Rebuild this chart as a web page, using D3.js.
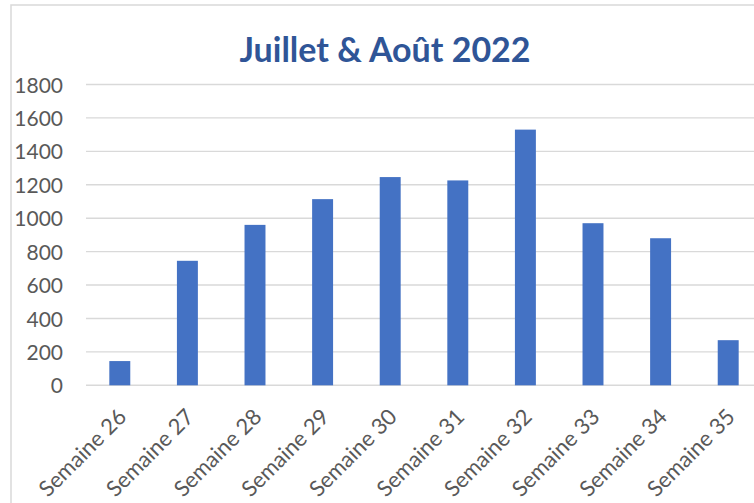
<!DOCTYPE html>
<html>
<head>
<meta charset="utf-8">
<title>Juillet & Août 2022</title>
<script src="https://d3js.org/d3.v7.min.js"></script>
<style>
  body { margin: 0; background: #fff; }
  text { font-family: Lato, "Open Sans", sans-serif; }
  .grid line { stroke: #d9d9d9; stroke-width: 1.4; }
  .tick text { fill: #595959; }
</style>
</head>
<body>
<script>
  // data
  var weeks = ["Semaine 26", "Semaine 27", "Semaine 28", "Semaine 29", "Semaine 30",
               "Semaine 31", "Semaine 32", "Semaine 33", "Semaine 34", "Semaine 35"];
  var values = [145, 745, 960, 1114, 1246, 1226, 1530, 970, 880, 270];
  var yTicks = [0, 200, 400, 600, 800, 1000, 1200, 1400, 1600, 1800];

  var w = 754, h = 503;
  var plot = {left: 86, right: 762, top: 84.5, bottom: 385.3};

  var svg = d3.select("body").append("svg")
      .attr("width", w)
      .attr("height", h);

  // chart frame
  svg.append("rect")
      .attr("x", 11).attr("y", 5)
      .attr("width", 800).attr("height", 600)
      .attr("fill", "none")
      .attr("stroke", "#d9d9d9")
      .attr("stroke-width", 1.5);

  var x = d3.scaleBand()
      .domain(weeks)
      .range([plot.left, plot.right])
      .paddingInner(0.69)
      .paddingOuter(0.345);

  var y = d3.scaleLinear()
      .domain([0, 1800])
      .range([plot.bottom, plot.top]);

  // gridlines
  svg.append("g")
      .attr("class", "grid")
      .selectAll("line")
      .data(yTicks)
    .enter()
      .append("line")
      .attr("x1", plot.left)
      .attr("x2", plot.right)
      .attr("y1", function(d) { return y(d); })
      .attr("y2", function(d) { return y(d); });

  // y axis labels
  var yAxis = svg.append("g")
      .attr("transform", "translate(" + plot.left + ",0)")
      .call(d3.axisLeft(y).tickValues(yTicks).tickFormat(d3.format("d"))
            .tickSize(0).tickPadding(23));
  yAxis.select(".domain").remove();
  yAxis.selectAll("text")
      .style("font-size", "21px")
      .attr("dy", "0.36em");

  // bars
  svg.append("g")
      .selectAll("rect")
      .data(values)
    .enter()
      .append("rect")
      .attr("x", function(d, i) { return x(weeks[i]); })
      .attr("y", function(d) { return y(d); })
      .attr("width", x.bandwidth())
      .attr("height", function(d) { return y(0) - y(d); })
      .attr("fill", "#4472c4");

  // x axis labels
  var xAxis = svg.append("g")
      .attr("transform", "translate(0," + plot.bottom + ")")
      .call(d3.axisBottom(x).tickSize(0).tickPadding(0));
  xAxis.select(".domain").remove();
  xAxis.selectAll("text")
      .style("font-size", "22px")
      .attr("text-anchor", "end")
      .attr("dy", 0)
      .attr("transform", "translate(8,33) rotate(-45)");

  // title
  svg.append("text")
      .attr("x", 385)
      .attr("y", 62)
      .attr("text-anchor", "middle")
      .style("font-size", "34px")
      .style("font-weight", "bold")
      .attr("fill", "#2f5597")
      .text("Juillet & Août 2022");
</script>
</body>
</html>
